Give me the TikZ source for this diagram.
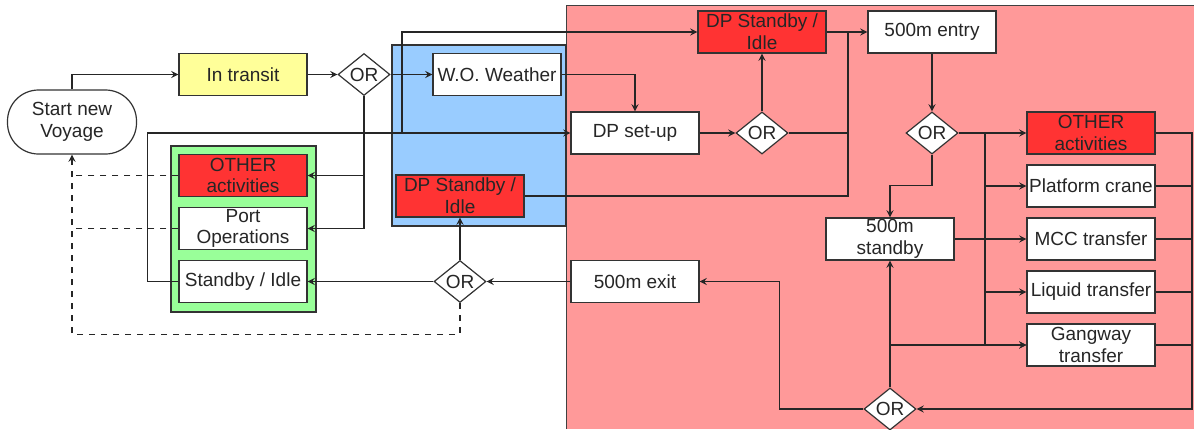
\documentclass[tikz,border=0pt]{standalone}
\usepackage{fontspec}
\setmainfont{Liberation Sans}
\usepackage{tikz}
\usetikzlibrary{shapes.geometric, arrows, positioning}
\definecolor{zonered}{HTML}{FF9999}
\definecolor{zoneblue}{HTML}{99CCFF}
\definecolor{zonegreen}{HTML}{99FF99}
\definecolor{busyred}{HTML}{FF3333}
\definecolor{transityellow}{HTML}{FFFF99}
\tikzstyle{activity} = [rectangle, minimum width=64pt, minimum height=21pt, inner sep=0pt, align=center, draw=black!80, fill=white, line width=0.6pt]
\tikzstyle{decision} = [diamond, minimum width=26pt, minimum height=21pt, inner sep=0pt, draw=black!80, fill=white, line width=0.6pt]
\tikzstyle{terminal} = [rectangle, rounded corners=15.5pt, minimum width=64.5pt, minimum height=32pt, inner sep=0pt, align=center, draw=black!80, fill=white, line width=0.6pt]
\tikzstyle{link} = [draw=black!85, line width=0.6pt]
\tikzstyle{arrow} = [link, ->, >=stealth]

\begin{document}
\begin{tikzpicture}[x=0.5pt, y=-0.5pt, node distance=4.9pt, font=\fontsize{9.5}{10.8}\selectfont, text=black!85]
    \useasboundingbox (0,0) rectangle (1194,429);

    % Zones
    \fill[zonered] (566,5) rectangle (1194,429);
    \draw[black!75, line width=0.5pt] (566,429) -- (566,5) -- (1194,5);
    \filldraw[fill=zoneblue, draw=black!80, line width=0.6pt] (392,45) rectangle (566,226);
    \filldraw[fill=zonegreen, draw=black!80, line width=1pt] (171,146) rectangle (316,312);

    % Nodes
    \node (start) [terminal] at (72,122) {Start new\\Voyage};
    \node (transit) [activity, fill=transityellow] at (243,74.5) {In transit};
    \node (or1) [decision] at (364,74.5) {OR};
    \node (weather) [activity] at (497,74.5) {W.O. Weather};
    \node (dpsetup) [activity] at (635,133) {DP set-up};
    \node (or2) [decision] at (762,133) {OR};
    \node (dpidle1) [activity, fill=busyred] at (762,32) {DP Standby /\\Idle};
    \node (entry) [activity] at (932,32) {500m entry};
    \node (or3) [decision] at (932,133) {OR};

    % Field activities
    \node (otherR) [activity, fill=busyred] at (1091,133) {OTHER\\activities};
    \node (platform) [activity, below=of otherR] {Platform crane};
    \node (mcc) [activity, below=of platform] {MCC transfer};
    \node (liquid) [activity, below=of mcc] {Liquid transfer};
    \node (gangway) [activity, below=of liquid] {Gangway\\transfer};

    \node (standby500) [activity] at (890,239) {500m\\standby};
    \node (or4) [decision] at (890,409) {OR};
    \node (exit500) [activity] at (635,281.5) {500m exit};
    \node (or5) [decision] at (460,281.5) {OR};
    \node (dpidle2) [activity, fill=busyred] at (460,196) {DP Standby /\\Idle};

    % Port side
    \node (otherL) [activity, fill=busyred] at (243,175.5) {OTHER\\activities};
    \node (port) [activity, below=of otherL] {Port\\Operations};
    \node (standbyL) [activity, below=of port] {Standby / Idle};

    \coordinate (split1) at (402,133);
    \coordinate (join1) at (848,32);
    \coordinate (bus1) at (985,133);
    \coordinate (bus2) at (1192,133);

    % Arrows
    \draw [arrow] (start.north) |- (transit.west);
    \draw [arrow] (transit) -- (or1);
    \draw [arrow] (or1) -- (weather);
    \draw [arrow] (or1.south) |- (port.east);
    \draw [arrow] (or1.south |- otherL.east) -- (otherL.east);
    \draw [arrow] (standbyL.west) -- ++(-31,0) |- (dpsetup.west);
    \draw [arrow] (split1) |- (dpidle1.west);
    \draw [arrow] (weather.east) -| (dpsetup.north);
    \draw [arrow] (dpsetup) -- (or2);
    \draw [arrow] (or2) -- (dpidle1);
    \draw [link] (or2.east) -| (join1);
    \draw [link] (dpidle2.east) -| (join1);
    \draw [arrow] (dpidle1) -- (entry);
    \draw [arrow] (entry) -- (or3);

    \draw [arrow] (or3) -- (otherR);
    \foreach \n in {platform, liquid, gangway}
        \draw [arrow] (bus1) |- (\n.west);
    \draw [arrow] (or3.south) -- ++(0,31) -| (standby500.north);
    \draw [arrow] (standby500) -- (mcc);
    \draw [arrow] (or4) -- (standby500);
    \draw [arrow] (or4.north |- gangway.west) -- (gangway.west);

    \foreach \n in {platform, mcc, liquid, gangway}
        \draw [link] (\n.east) -- (\n.east -| bus2);
    \draw [arrow] (otherR.east) -- (bus2) |- (or4.east);
    \draw [arrow] (or4.west) -- ++(-84,0) |- (exit500.east);

    \draw [arrow] (exit500) -- (or5);
    \draw [arrow] (or5) -- (standbyL);
    \draw [arrow] (or5) -- (dpidle2);

    \draw [arrow, dashed] (or5.south) -- ++(0,31) -| (start.south);
    \draw [link, dashed] (otherL.west) -- (otherL.west -| start.south);
    \draw [link, dashed] (port.west) -- (port.west -| start.south);
\end{tikzpicture}
\end{document}
